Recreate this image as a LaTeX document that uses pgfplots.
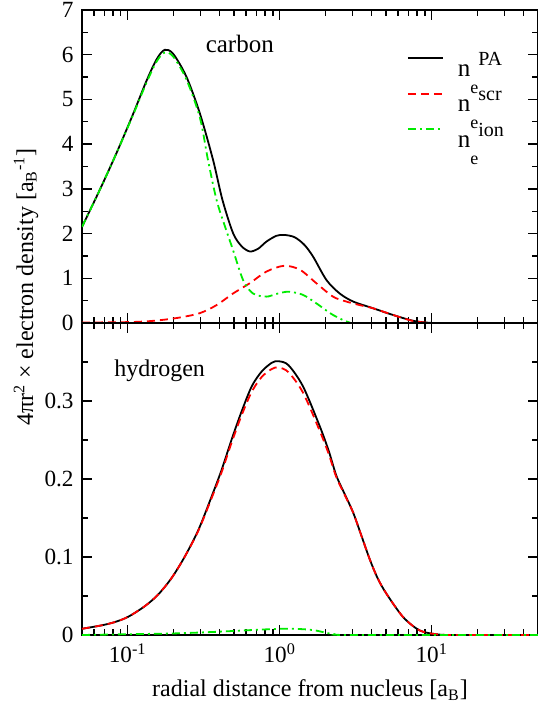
\documentclass[12pt,border=0pt]{standalone}
\usepackage{fontspec}
\setmainfont{Liberation Serif}
\usepackage{pgfplots}
\usepackage{pgfplotstable}
\pgfplotsset{compat=1.18}
\definecolor{xred}{RGB}{255,0,0}
\definecolor{xgreen}{RGB}{0,235,0}

\pgfplotstableread{
x y
0.05 2.15
0.0655 2.98
0.0843 3.80
0.108 4.66
0.133 5.42
0.155 5.90
0.175 6.11
0.199 6.02
0.243 5.51
0.298 4.69
0.364 3.65
0.42 2.75
0.493 2.01
0.56 1.72
0.635 1.60
0.72 1.66
0.817 1.82
0.95 1.95
1.07 1.97
1.25 1.92
1.45 1.75
1.66 1.48
2.03 0.96
2.48 0.66
3.04 0.48
4.11 0.33
5.56 0.18
7.53 0.05
9.6 0.005
12 0
50 0
}\cpa

\pgfplotstableread{
x y
0.05 0.01
0.1 0.02
0.137 0.04
0.18 0.08
0.226 0.13
0.298 0.22
0.384 0.40
0.493 0.66
0.635 0.89
0.817 1.15
1.07 1.28
1.36 1.19
1.74 0.89
2.24 0.59
2.74 0.48
3.36 0.40
4.11 0.33
5.56 0.18
7.53 0.045
9.6 0.005
12 0
50 0
}\cscr

\pgfplotstableread{
x y
0.05 2.15
0.0655 2.98
0.0843 3.80
0.108 4.64
0.133 5.38
0.155 5.85
0.175 6.05
0.199 5.96
0.243 5.45
0.298 4.60
0.337 3.65
0.384 2.75
0.435 2.17
0.493 1.63
0.574 0.96
0.667 0.66
0.817 0.59
0.95 0.65
1.14 0.70
1.42 0.63
1.74 0.44
2.24 0.18
2.88 0.01
3.5 0
50 0
}\cion

\pgfplotstableread{
x y
0.05 0.008
0.0674 0.0124
0.0826 0.0167
0.101 0.0235
0.130 0.0372
0.159 0.0521
0.195 0.0735
0.238 0.101
0.292 0.135
0.357 0.178
0.415 0.212
0.483 0.251
0.562 0.287
0.655 0.319
0.762 0.338
0.886 0.349
0.98 0.351
1.14 0.346
1.42 0.319
1.83 0.268
2.1 0.236
2.36 0.204
2.7 0.179
3.04 0.157
3.45 0.127
3.91 0.097
4.4 0.073
5.03 0.053
6.48 0.023
8.3 0.006
10.7 0.001
14 0
50 0
}\hpa

\pgfplotstableread{
x y
0.05 0.008
0.0674 0.0124
0.0826 0.0167
0.101 0.0235
0.130 0.0372
0.159 0.0521
0.195 0.0735
0.238 0.101
0.292 0.134
0.357 0.176
0.415 0.209
0.483 0.247
0.562 0.282
0.655 0.312
0.762 0.331
0.886 0.341
0.98 0.343
1.14 0.337
1.42 0.311
1.83 0.262
2.1 0.232
2.36 0.202
2.7 0.178
3.04 0.157
3.45 0.127
3.91 0.097
4.4 0.073
5.03 0.053
6.48 0.023
8.3 0.006
10.7 0.001
14 0
50 0
}\hscr

\pgfplotstableread{
x y
0.05 0.0
0.1 0.001
0.2 0.002
0.375 0.004
0.6 0.006
1.03 0.008
1.4 0.0075
1.7 0.006
2.0 0.003
2.3 0.001
3 0
50 0
}\hion

\newcommand\nlab[1]{\rule[-7.5pt]{0pt}{19.5pt}\smash{n\raisebox{-8.5pt}{\fontsize{9}{9}\selectfont e}\raisebox{5.5pt}{\fontsize{10}{10}\selectfont #1}}}

\begin{document}
\begin{tikzpicture}
\begin{axis}[
  xmode=log, log basis x=10, xmin=0.05, xmax=50,
  scale only axis, width=228pt, height=156.5pt,
  tick align=inside, major tick length=5pt, minor tick length=3pt,
  axis line style={line width=0.9pt},
  every tick/.style={black, line width=0.7pt},
  xtick={0.1,1,10},
  minor xtick={0.06,0.07,0.08,0.09,0.2,0.3,0.4,0.5,0.6,0.7,0.8,0.9,2,3,4,5,6,7,8,9,20,30,40},
  tick label style={font=\fontsize{11.6}{13}\selectfont},
  /pgf/number format/assume math mode=true,
  name=top, at={(0,0)}, anchor=south west,
  ymin=0, ymax=7, ytick={0,1,...,7}, minor ytick={0.5,1.5,...,6.5},
  xticklabels={},
  legend style={draw=none, fill=none, inner sep=0pt, outer sep=0pt,
    at={(0.712,0.878)}, anchor=north west, row sep=0pt,
    /tikz/every odd column/.append style={column sep=5pt},
    font=\fontsize{12.5}{13}\selectfont, cells={anchor=west}},
  legend image code/.code={\draw[#1, line width=1.1pt] (0pt,4pt) -- (17.5pt,4pt);},
]
\addplot[black, line width=0.9pt, smooth] table {\cpa};
\addlegendentry{\nlab{PA}}
\addplot[xred, line width=0.9pt, smooth, dash pattern=on 4pt off 2.5pt] table {\cscr};
\addlegendentry{\nlab{scr}}
\addplot[xgreen, line width=0.9pt, smooth, dash pattern=on 4pt off 2pt on 1pt off 2pt] table {\cion};
\addlegendentry{\nlab{ion}}
\node[anchor=base, font=\fontsize{12.5}{13}\selectfont] at (axis cs:0.546,6.04) {carbon};
\end{axis}
\begin{axis}[
  xmode=log, log basis x=10, xmin=0.05, xmax=50,
  scale only axis, width=228pt, height=156pt,
  tick align=inside, major tick length=5pt, minor tick length=3pt,
  axis line style={line width=0.9pt},
  every tick/.style={black, line width=0.7pt},
  xtick={0.1,1,10},
  minor xtick={0.06,0.07,0.08,0.09,0.2,0.3,0.4,0.5,0.6,0.7,0.8,0.9,2,3,4,5,6,7,8,9,20,30,40},
  tick label style={font=\fontsize{11.6}{13}\selectfont},
  /pgf/number format/assume math mode=true,
  at={(0,0)}, anchor=north west,
  ymin=0, ymax=0.4, ytick={0,0.1,0.2,0.3}, minor ytick={0.05,0.15,0.25,0.35},
  xticklabels={10\textsuperscript{-1},10\textsuperscript{0},10\textsuperscript{1}},
  xlabel={radial distance from nucleus [a\textsubscript{B}]},
  xlabel style={font=\fontsize{12}{13}\selectfont},
]
\addplot[black, line width=0.9pt, smooth] table {\hpa};
\addplot[xred, line width=0.9pt, smooth, dash pattern=on 4pt off 2.5pt] table {\hscr};
\addplot[xgreen, line width=0.9pt, smooth, dash pattern=on 4pt off 2pt on 1pt off 2pt] table {\hion};
\node[anchor=base, font=\fontsize{12}{13}\selectfont] at (axis cs:0.162,0.332) {hydrogen};
\end{axis}
\node[rotate=90, font=\fontsize{12}{13}\selectfont] at (-28pt,18pt) {4πr\textsuperscript{2} × electron density [a\textsubscript{B}\textsuperscript{-1}]};
\pgfresetboundingbox
\path (-41pt,161.5pt) rectangle (227.5pt,-192pt);
\end{tikzpicture}
\end{document}
